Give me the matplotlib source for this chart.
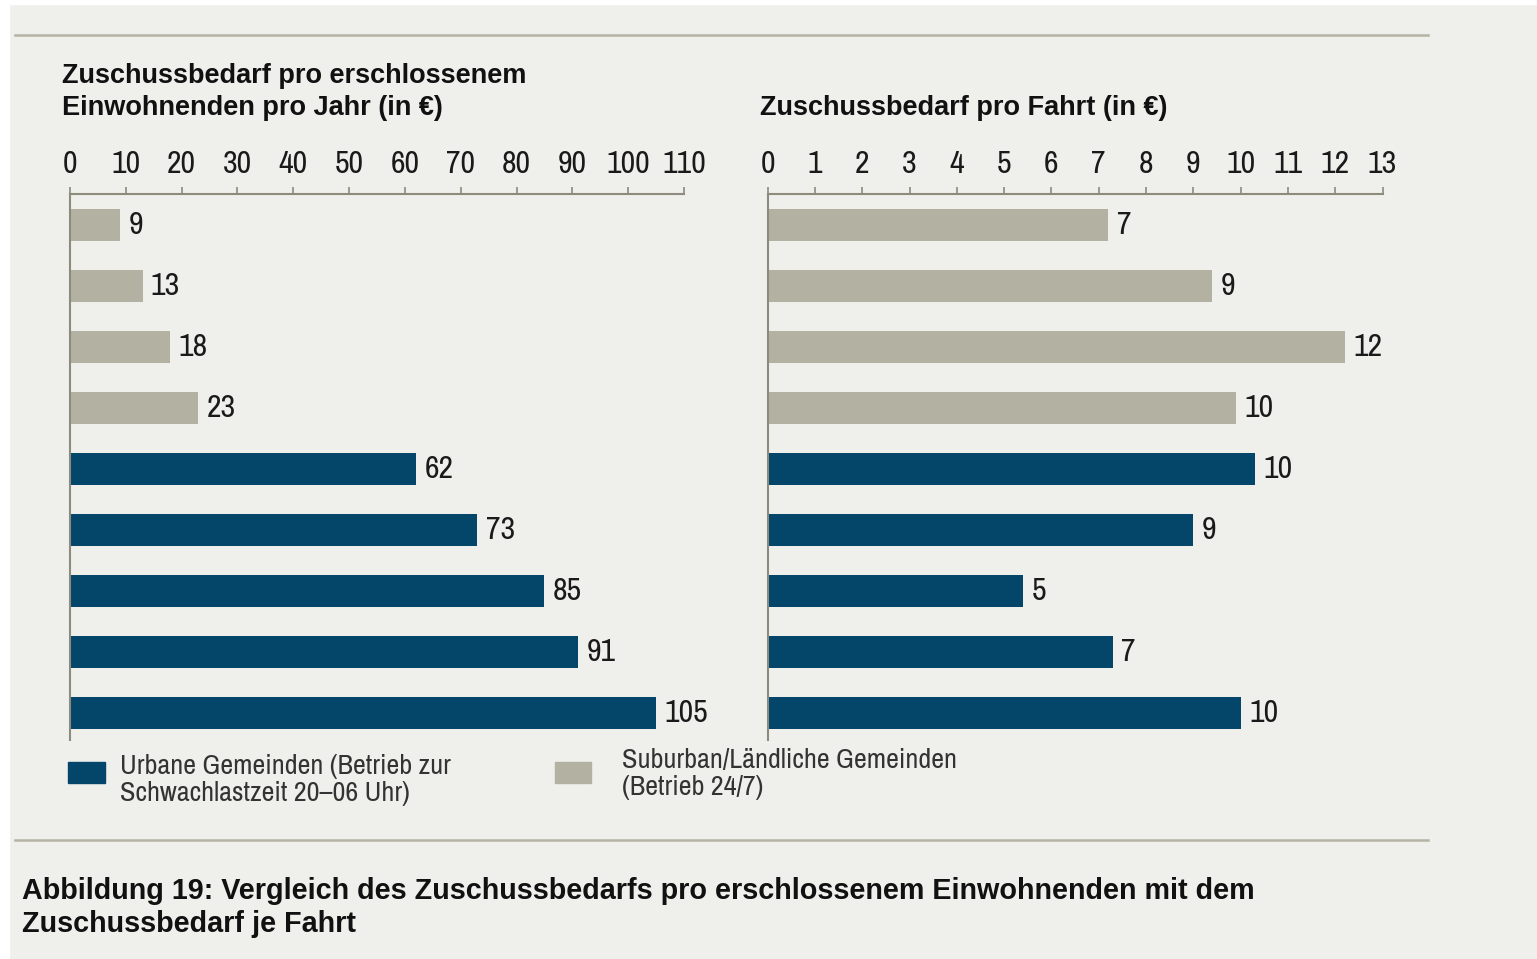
import matplotlib.pyplot as plt
from matplotlib.patches import Rectangle
from matplotlib.lines import Line2D

# Daten (von oben nach unten)
pro_einwohner = [9, 13, 18, 23, 62, 73, 85, 91, 105]
pro_fahrt = [7.2, 9.4, 12.2, 9.9, 10.3, 9.0, 5.4, 7.3, 10.0]
gruppe = ['sub', 'sub', 'sub', 'sub', 'urb', 'urb', 'urb', 'urb', 'urb']
ticks_links = list(range(0, 111, 10))
ticks_rechts = list(range(0, 14))

BLAU = '#03466a'
GRAU = '#b3b1a2'
HG = '#efefeb'
ACHSE = '#8c8b7c'
NARROW = ['Archivo Narrow', 'PT Sans Narrow', 'Liberation Sans', 'DejaVu Sans']
ARIAL = ['Liberation Sans', 'DejaVu Sans']

W, H = 1537, 959
fig = plt.figure(figsize=(W / 100, H / 100), dpi=100)
fig.patch.set_facecolor(HG)

# weisse Raender oben und links
fig.patches.append(Rectangle((0, 1 - 4 / H), 1, 4 / H, transform=fig.transFigure, color='white', zorder=0))
fig.patches.append(Rectangle((0, 0), 9 / W, 1, transform=fig.transFigure, color='white', zorder=0))


def fx(px):
    return px / W


def fy(py):
    return 1 - py / H


farben = [BLAU if g == 'urb' else GRAU for g in gruppe]
pos = list(range(len(gruppe)))


def panel(left_px, right_px, werte, ticks, xmax):
    ax = fig.add_axes([fx(left_px), fy(740), fx(right_px - left_px), (740 - 194) / H])
    ax.set_facecolor('none')
    ax.barh(pos, werte, height=0.54, color=farben, edgecolor='none')
    ax.set_xlim(0, xmax)
    ax.set_ylim(8.443, -0.508)
    ax.xaxis.tick_top()
    ax.set_xticks(ticks)
    ax.set_xticklabels([str(t) for t in ticks], family=NARROW, fontsize=23, color='#1a1a1a')
    ax.tick_params(axis='x', direction='out', length=5, width=1.2, color=ACHSE, pad=6.5)
    ax.set_yticks([])
    for s in ['right', 'bottom']:
        ax.spines[s].set_visible(False)
    for s in ['top', 'left']:
        ax.spines[s].set_color(ACHSE)
        ax.spines[s].set_linewidth(1.5)
    for p, v in zip(pos, werte):
        ax.annotate(f'{v:.0f}', (v, p), xytext=(6, 0), textcoords='offset points',
                    va='center', ha='left', family=NARROW, fontsize=23, color='#1a1a1a')
    return ax


panel(70, 684, pro_einwohner, ticks_links, 110)
panel(767.7, 1382.5, pro_fahrt, ticks_rechts, 13)

# Titel
fig.text(fx(62), fy(92), 'Zuschussbedarf pro erschlossenem\nEinwohnenden pro Jahr (in €)',
         family=ARIAL, fontsize=19.5, fontweight='bold', va='center', ha='left',
         color='#111111', linespacing=1.3)
fig.text(fx(760), fy(108), 'Zuschussbedarf pro Fahrt (in €)',
         family=ARIAL, fontsize=19.5, fontweight='bold', va='center', ha='left', color='#111111')

# Trennlinien
for y in [35, 840]:
    fig.add_artist(Line2D([fx(15), fx(1428)], [fy(y), fy(y)], color='#b5b3a5', lw=1.8))

# Legende
fig.patches.append(Rectangle((fx(68), fy(783)), fx(37), 21 / H, transform=fig.transFigure, color=BLAU))
fig.text(fx(120), fy(780), 'Urbane Gemeinden (Betrieb zur\nSchwachlastzeit 20–06 Uhr)',
         family=NARROW, fontsize=20.3, va='center', ha='left', color='#333333', linespacing=1.14)
fig.patches.append(Rectangle((fx(555), fy(783)), fx(36), 21 / H, transform=fig.transFigure, color=GRAU))
fig.text(fx(622), fy(774), 'Suburban/Ländliche Gemeinden\n(Betrieb 24/7)',
         family=NARROW, fontsize=20.3, va='center', ha='left', color='#333333', linespacing=1.14)

# Bildunterschrift
fig.text(fx(22), fy(907.5), 'Abbildung 19: Vergleich des Zuschussbedarfs pro erschlossenem Einwohnenden mit dem\nZuschussbedarf je Fahrt',
         family=ARIAL, fontsize=20.7, fontweight='bold',
         va='center', ha='left', color='#111111', linespacing=1.21)

fig.savefig('out.png', dpi=100, facecolor=fig.get_facecolor())
